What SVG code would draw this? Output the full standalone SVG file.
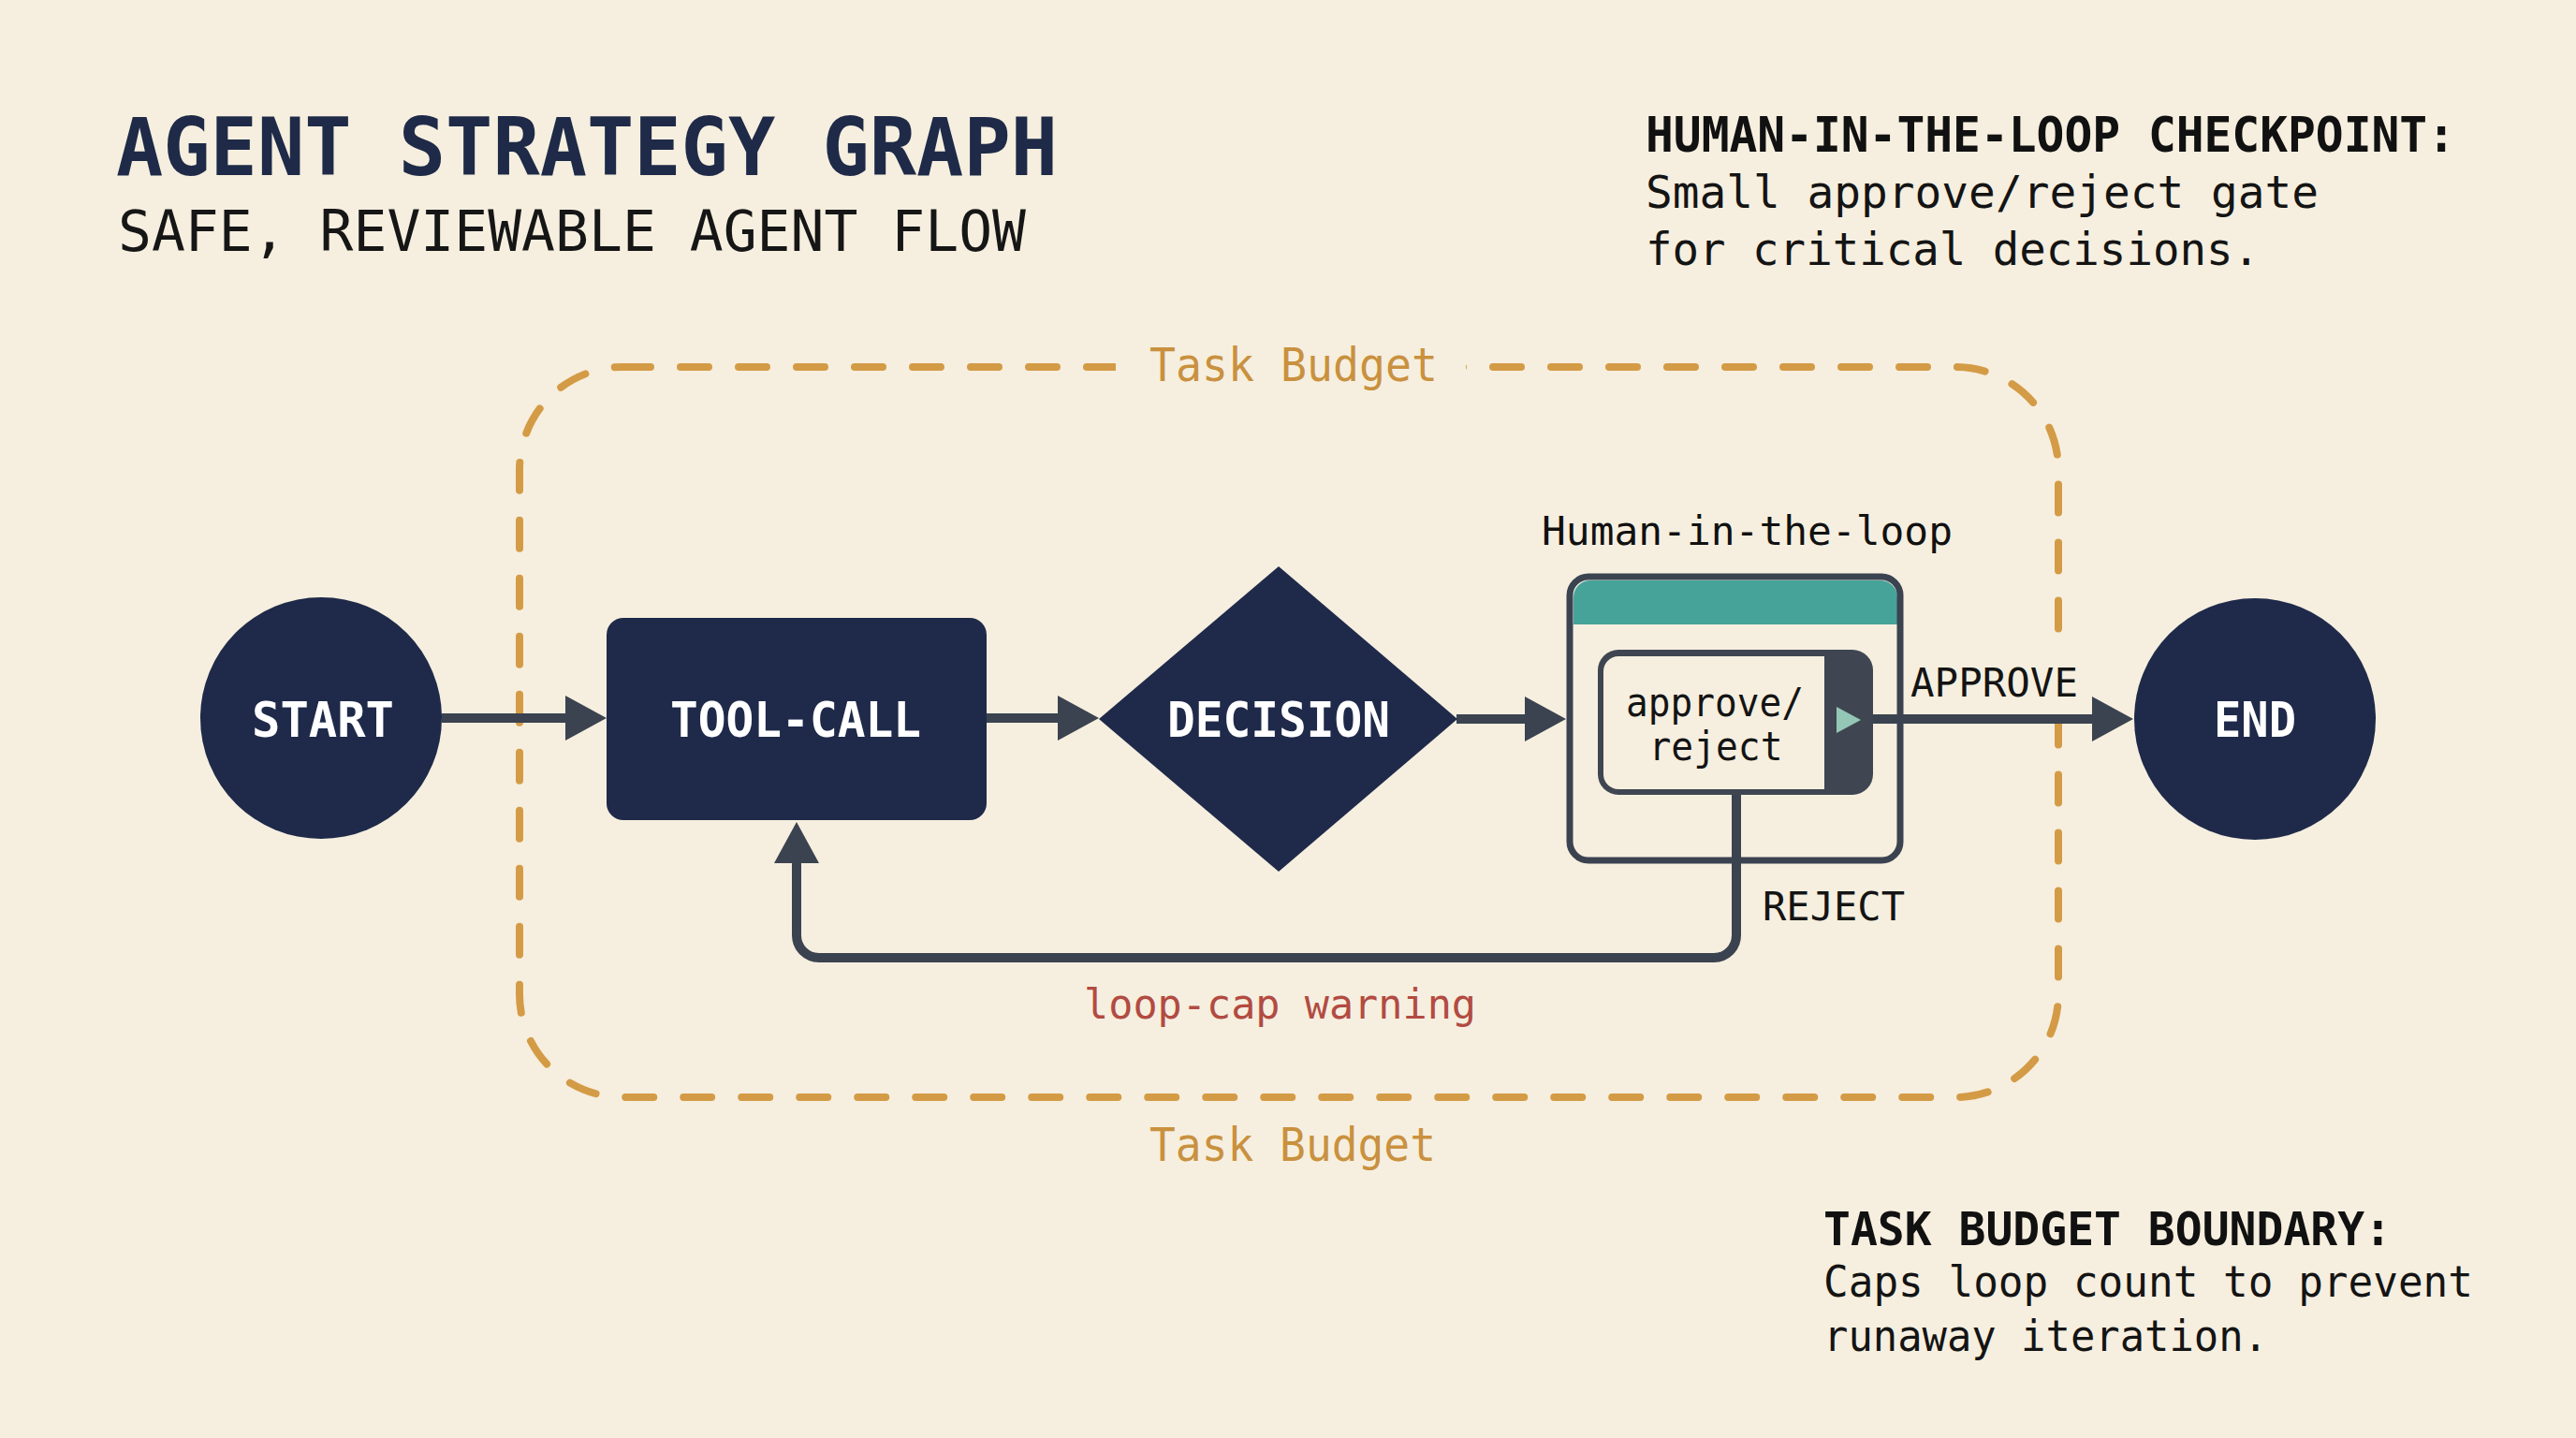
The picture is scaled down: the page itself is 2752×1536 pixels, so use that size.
<svg xmlns="http://www.w3.org/2000/svg" width="2752" height="1536" viewBox="0 0 2752 1536">
  <defs>
    <style>
      text { font-family: "DejaVu Sans Mono", "Liberation Mono", monospace; }
      .node { fill: #1f2a4a; }
      .nodelabel { fill: #ffffff; font-weight: bold; font-size: 52px; text-anchor: middle; }
      .conn { fill: none; stroke: #3b4350; stroke-width: 10; }
      .budget { fill: none; stroke: #d49b46; stroke-width: 8; stroke-dasharray: 30 32; stroke-linecap: round; }
      .budgettext { fill: #c9913f; font-size: 49px; }
      .edgelabel { fill: #141414; font-size: 43px; }
      .head { fill: #111111; font-weight: bold; }
      .body { fill: #141414; }
    </style>
    <marker id="arrow" viewBox="0 0 44 48" refX="1" refY="24" markerWidth="44" markerHeight="48" markerUnits="userSpaceOnUse" orient="auto">
      <path d="M0,0 L44,24 L0,48 Z" fill="#3b4350"/>
    </marker>
  </defs>

  <rect x="0" y="0" width="2752" height="1536" fill="#f6efdf"/>

  <g id="title">
    <text x="124" y="187" font-size="86" font-weight="bold" fill="#1e2a47" textLength="1006" lengthAdjust="spacingAndGlyphs">AGENT STRATEGY GRAPH</text>
    <text x="126" y="268" font-size="60" fill="#161616" textLength="970" lengthAdjust="spacingAndGlyphs">SAFE, REVIEWABLE AGENT FLOW</text>
  </g>

  <g id="note-hitl">
    <text class="head" x="1758" y="162" font-size="52" textLength="865" lengthAdjust="spacingAndGlyphs">HUMAN-IN-THE-LOOP CHECKPOINT:</text>
    <text class="body" x="1758" y="222" font-size="48" textLength="719" lengthAdjust="spacingAndGlyphs">Small approve/reject gate</text>
    <text class="body" x="1758" y="283" font-size="48" textLength="656" lengthAdjust="spacingAndGlyphs">for critical decisions.</text>
  </g>

  <g id="note-budget">
    <text class="head" x="1948" y="1330" font-size="49" textLength="607" lengthAdjust="spacingAndGlyphs">TASK BUDGET BOUNDARY:</text>
    <text class="body" x="1948" y="1385" font-size="46" textLength="694" lengthAdjust="spacingAndGlyphs">Caps loop count to prevent</text>
    <text class="body" x="1948" y="1443" font-size="46" textLength="475" lengthAdjust="spacingAndGlyphs">runaway iteration.</text>
  </g>

  <g id="task-budget">
    <rect class="budget" x="555" y="392" width="1644" height="780" rx="110" ry="110"/>
    <rect x="1192" y="378" width="374" height="28" fill="#f6efdf"/>
    <rect x="2188" y="693" width="22" height="70" fill="#f6efdf"/>
    <text class="budgettext" x="1228" y="407" textLength="308" lengthAdjust="spacingAndGlyphs">Task Budget</text>
    <text class="budgettext" x="1228" y="1240" textLength="306" lengthAdjust="spacingAndGlyphs">Task Budget</text>
  </g>

  <g id="connectors">
    <line class="conn" x1="472" y1="767" x2="605" y2="767" marker-end="url(#arrow)"/>
    <line class="conn" x1="1054" y1="767" x2="1131" y2="767" marker-end="url(#arrow)"/>
    <line class="conn" x1="1556" y1="768" x2="1630" y2="768" marker-end="url(#arrow)"/>
    <line class="conn" x1="2001" y1="768" x2="2236" y2="768" marker-end="url(#arrow)"/>
    <path class="conn" d="M1855,849 V999 A24,24 0 0 1 1831,1023 H875 A24,24 0 0 1 851,999 V921" marker-end="url(#arrow)"/>
    <text class="edgelabel" x="2041" y="744" textLength="179" lengthAdjust="spacingAndGlyphs">APPROVE</text>
    <text class="edgelabel" x="1883" y="983" textLength="152" lengthAdjust="spacingAndGlyphs">REJECT</text>
    <text x="1158" y="1088" font-size="44" fill="#b24b42" textLength="419" lengthAdjust="spacingAndGlyphs">loop-cap warning</text>
  </g>

  <g id="start">
    <circle class="node" cx="343" cy="767" r="129"/>
    <text class="nodelabel" x="345" y="787" textLength="152" lengthAdjust="spacingAndGlyphs">START</text>
  </g>

  <g id="tool-call">
    <rect class="node" x="648" y="660" width="406" height="216" rx="18" ry="18"/>
    <text class="nodelabel" x="850" y="787" textLength="268" lengthAdjust="spacingAndGlyphs">TOOL-CALL</text>
  </g>

  <g id="decision">
    <polygon class="node" points="1366,605 1557,768 1366,931 1174,768"/>
    <text class="nodelabel" x="1366" y="787" textLength="238" lengthAdjust="spacingAndGlyphs">DECISION</text>
  </g>

  <g id="human-in-the-loop">
    <text x="1647" y="582" font-size="43" fill="#111111" textLength="439" lengthAdjust="spacingAndGlyphs">Human-in-the-loop</text>
    <path d="M1681,667 V638 A18,18 0 0 1 1699,620 H2009 A18,18 0 0 1 2027,638 V667 Z" fill="#46a39a"/>
    <rect x="1677" y="616" width="353" height="303" rx="20" ry="20" fill="none" stroke="#3b4350" stroke-width="7"/>
    <rect x="1707" y="694" width="294" height="155" rx="22" ry="22" fill="#3f4651"/>
    <path d="M1949,701 H1729 A16,16 0 0 0 1713,717 V827 A16,16 0 0 0 1729,843 H1949 Z" fill="#f6efdf"/>
    <polygon points="1962,755 1988,769 1962,783" fill="#95c7b6"/>
    <text x="1832" y="765" font-size="42" fill="#141414" text-anchor="middle" textLength="190" lengthAdjust="spacingAndGlyphs">approve/</text>
    <text x="1833" y="812" font-size="42" fill="#141414" text-anchor="middle" textLength="143" lengthAdjust="spacingAndGlyphs">reject</text>
  </g>

  <g id="end">
    <circle class="node" cx="2409" cy="768" r="129"/>
    <text class="nodelabel" x="2409" y="787" textLength="88" lengthAdjust="spacingAndGlyphs">END</text>
  </g>
</svg>
